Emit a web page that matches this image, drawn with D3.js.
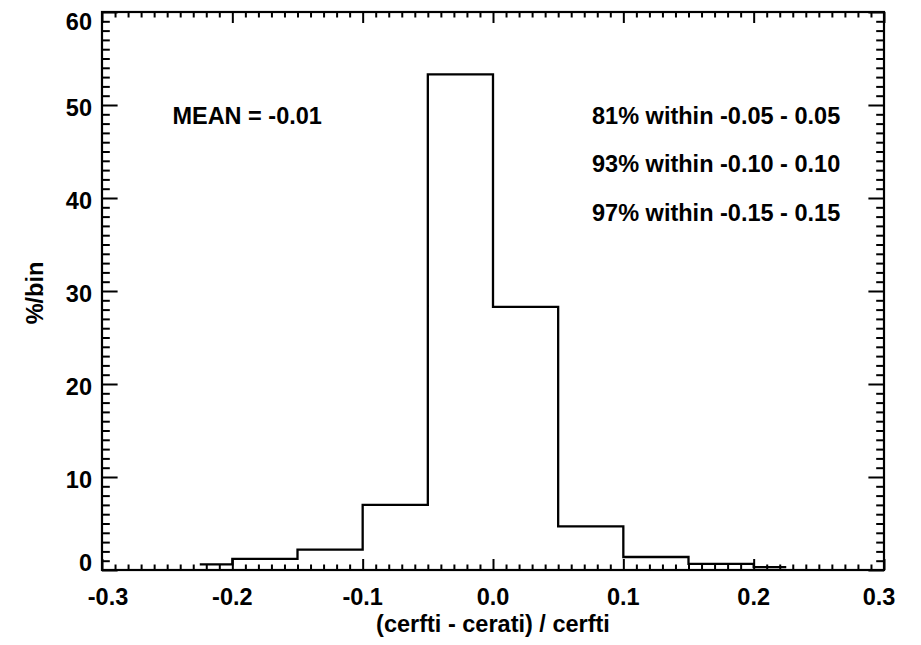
<!DOCTYPE html>
<html>
<head>
<meta charset="utf-8">
<script src="https://cdn.jsdelivr.net/npm/d3@7"></script>
<style>
  body { margin: 0; background: #fff; }
  text { font-family: "Liberation Sans", Arial, Helvetica, sans-serif; font-weight: bold; fill: #000; }
</style>
</head>
<body>
<svg id="plt"></svg>
<script>
// histogram bin left edges (last entry closes the final bin) and %/bin values
const binEdges = [-0.225, -0.2, -0.15, -0.1, -0.05, 0.0, 0.05, 0.1, 0.15, 0.2, 0.225];
const binValues = [0.6, 1.2, 2.2, 7.0, 53.3, 28.3, 4.7, 1.4, 0.65, 0.3];

const xMajor = [-0.3, -0.2, -0.1, 0.0, 0.1, 0.2, 0.3];
const xLabels = ["-0.3", "-0.2", "-0.1", "0.0", "0.1", "0.2", "0.3"];
const yMajor = [0, 10, 20, 30, 40, 50, 60];
const yLabels = ["0", "10", "20", "30", "40", "50", "60"];

const meanText = "MEAN = -0.01";
const withinText = ["81% within -0.05 - 0.05", "93% within -0.10 - 0.10", "97% within -0.15 - 0.15"];
const withinY = [48, 42.75, 37.5];

const xTitle = "(cerfti - cerati) / cerfti";
const yTitle = "%/bin";

// plot box
const margin = { left: 102, top: 12, right: 37, bottom: 75 };
const W = 921, H = 645;
const pw = W - margin.left - margin.right,
      ph = H - margin.top - margin.bottom;

const x = d3.scaleLinear().domain([-0.3, 0.3]).range([margin.left, margin.left + pw]);
const y = d3.scaleLinear().domain([0, 60]).range([margin.top + ph, margin.top]);

const svg = d3.select("#plt")
    .attr("width", W)
    .attr("height", H)
    .attr("xmlns", "http://www.w3.org/2000/svg");

const fs = 23.5;
const xTickLen = 11, yTickLen = 15.6;

// minor tick values
const xMinor = d3.range(-30, 31).map(d => d / 100).filter(d => Math.abs(Math.round(d * 100) % 10) !== 0);
const yMinor = d3.range(0, 61).filter(d => d % 10 !== 0);

// bottom + top axes (ticks pointing in)
svg.append("g").attr("transform", "translate(0," + (margin.top + ph) + ")")
    .call(d3.axisBottom(x).tickValues(xMajor).tickSize(-xTickLen).tickFormat("").tickSizeOuter(0));
svg.append("g").attr("transform", "translate(0," + (margin.top + ph) + ")")
    .call(d3.axisBottom(x).tickValues(xMinor).tickSize(-xTickLen / 2).tickFormat("").tickSizeOuter(0));
svg.append("g").attr("transform", "translate(0," + margin.top + ")")
    .call(d3.axisTop(x).tickValues(xMajor).tickSize(-xTickLen).tickFormat("").tickSizeOuter(0));
svg.append("g").attr("transform", "translate(0," + margin.top + ")")
    .call(d3.axisTop(x).tickValues(xMinor).tickSize(-xTickLen / 2).tickFormat("").tickSizeOuter(0));

// left + right axes
svg.append("g").attr("transform", "translate(" + margin.left + ",0)")
    .call(d3.axisLeft(y).tickValues(yMajor).tickSize(-yTickLen).tickFormat("").tickSizeOuter(0));
svg.append("g").attr("transform", "translate(" + margin.left + ",0)")
    .call(d3.axisLeft(y).tickValues(yMinor).tickSize(-yTickLen / 2).tickFormat("").tickSizeOuter(0));
svg.append("g").attr("transform", "translate(" + (margin.left + pw) + ",0)")
    .call(d3.axisRight(y).tickValues(yMajor).tickSize(-yTickLen).tickFormat("").tickSizeOuter(0));
svg.append("g").attr("transform", "translate(" + (margin.left + pw) + ",0)")
    .call(d3.axisRight(y).tickValues(yMinor).tickSize(-yTickLen / 2).tickFormat("").tickSizeOuter(0));

svg.selectAll(".domain").remove();
svg.selectAll(".tick line").attr("stroke", "#000").attr("stroke-width", 2);

// frame
svg.append("rect")
    .attr("x", margin.left).attr("y", margin.top)
    .attr("width", pw).attr("height", ph)
    .attr("fill", "none").attr("stroke", "#000").attr("stroke-width", 2.2);

// tick labels
svg.selectAll(".xlab").data(xMajor).enter().append("text")
    .attr("class", "xlab")
    .attr("x", d => Math.min(Math.max(x(d), margin.left + 6), margin.left + pw - 5))
    .attr("y", margin.top + ph + 35)
    .attr("text-anchor", "middle")
    .style("font-size", fs + "px")
    .text((d, i) => xLabels[i]);

svg.selectAll(".ylab").data(yMajor).enter().append("text")
    .attr("class", "ylab")
    .attr("x", margin.left - 10)
    .attr("y", d => Math.min(Math.max(y(d) + 10.5, margin.top + 18), margin.top + ph + 1))
    .attr("text-anchor", "end")
    .style("font-size", fs + "px")
    .text((d, i) => yLabels[i]);

// axis titles
svg.append("text")
    .attr("x", x(0))
    .attr("y", 632)
    .attr("text-anchor", "middle")
    .style("font-size", fs + "px")
    .text(xTitle);

svg.append("text")
    .attr("transform", "translate(43," + (margin.top + ph / 2 + 2) + ") rotate(-90)")
    .attr("text-anchor", "middle")
    .style("font-size", fs + "px")
    .text(yTitle);

// histogram step line
const pts = binValues.map((v, i) => [binEdges[i], v]);
pts.push([binEdges[binEdges.length - 1], binValues[binValues.length - 1]]);

const line = d3.line()
    .x(d => x(d[0]))
    .y(d => y(d[1]))
    .curve(d3.curveStepAfter);

svg.append("path")
    .datum(pts)
    .attr("d", line)
    .attr("fill", "none")
    .attr("stroke", "#000")
    .attr("stroke-width", 2.3);

// annotations
svg.append("text")
    .attr("x", x(-0.246))
    .attr("y", y(48))
    .style("font-size", fs + "px")
    .text(meanText);

svg.selectAll(".within").data(withinText).enter().append("text")
    .attr("class", "within")
    .attr("x", x(0.076))
    .attr("y", (d, i) => y(withinY[i]))
    .style("font-size", fs + "px")
    .text(d => d);
</script>
</body>
</html>
